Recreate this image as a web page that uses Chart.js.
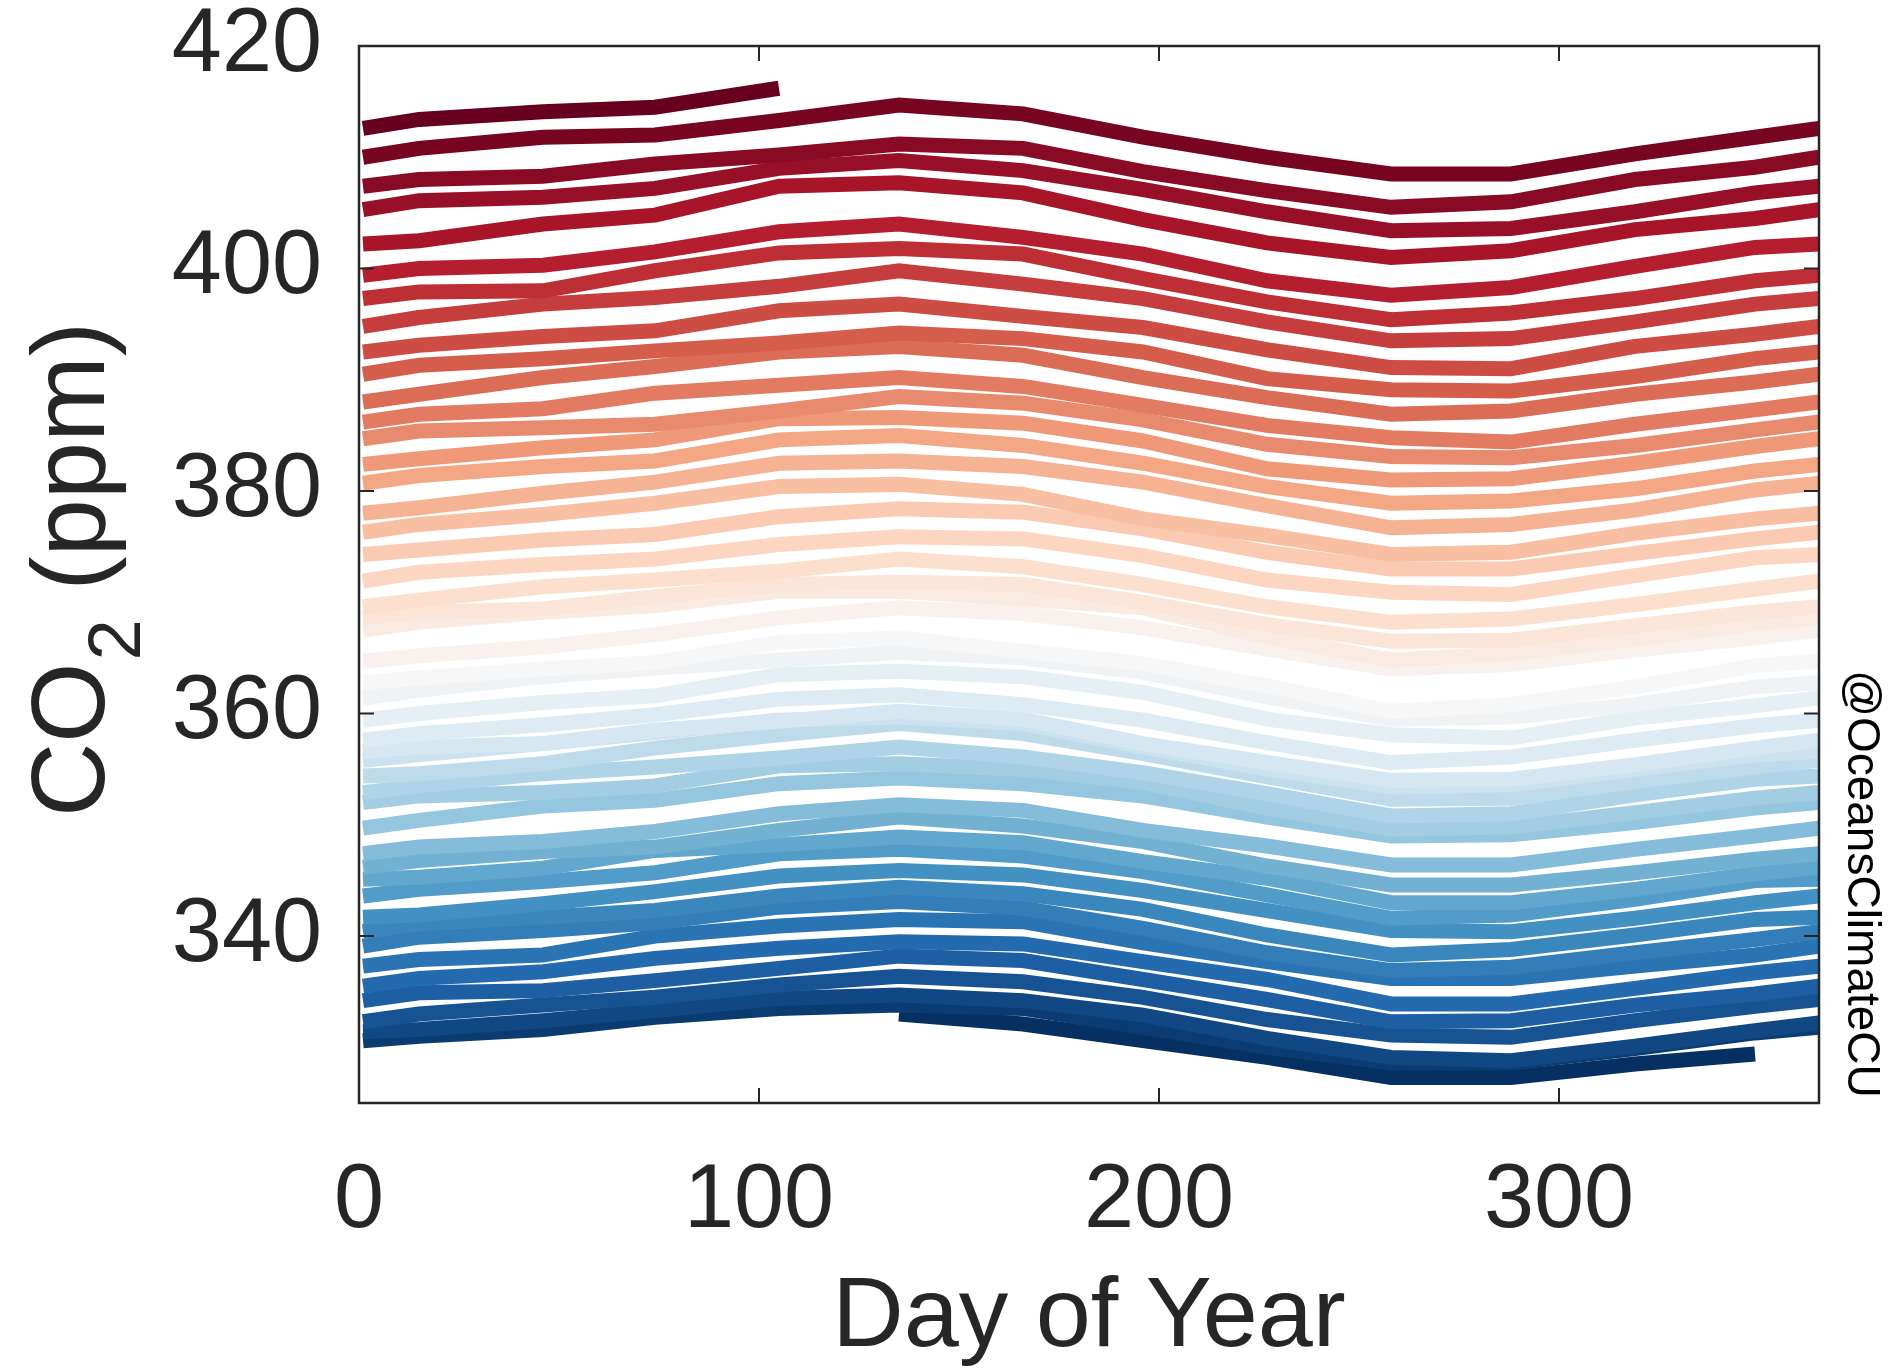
<!DOCTYPE html>
<html>
<head>
<meta charset="utf-8">
<script src="https://cdn.jsdelivr.net/npm/chart.js@4.4.1/dist/chart.umd.min.js"></script>
<style>
  html, body { margin: 0; padding: 0; background: #fff; }
  #wrap { width: 1895px; height: 1369px; position: relative; }
</style>
</head>
<body>
<div id="wrap"><canvas id="chart"></canvas></div>
<script>
'use strict';

// day of year for each reading (start of year, mid-months, end of year)
const days = [1, 15, 46, 74, 105, 135, 166, 196, 227, 258, 288, 319, 349, 365];
const xTicks = [0, 100, 200, 300];
const yTicks = [340, 360, 380, 400, 420];
const years = [];
for (let y = 1974; y <= 2020; y++) years.push(y);

// CO2 (ppm), one list per year
const co2_1974 = [null, null, null, null, null, 333.0, 332.1, 330.6, 329.1, 327.3, 327.3, 328.5, 329.4, null];
const co2_1975 = [330.6, 331.0, 331.6, 332.7, 333.5, 333.8, 333.5, 331.8, 330.0, 328.6, 328.6, 329.9, 331.3, 331.8];
const co2_1976 = [331.4, 331.6, 332.4, 333.3, 334.4, 334.7, 334.2, 332.9, 330.8, 329.1, 328.8, 330.1, 331.5, 332.2];
const co2_1977 = [332.3, 333.0, 333.8, 334.5, 335.6, 336.4, 335.9, 334.5, 332.5, 331.1, 330.9, 332.4, 333.7, 334.3];
const co2_1978 = [334.2, 334.9, 335.1, 336.0, 337.1, 338.2, 337.8, 336.1, 334.3, 332.3, 332.4, 333.8, 334.8, 335.5];
const co2_1979 = [335.5, 336.2, 336.8, 338.0, 338.9, 339.5, 339.3, 337.7, 336.1, 333.9, 333.9, 335.3, 336.7, 337.3];
const co2_1980 = [337.3, 337.9, 338.3, 340.0, 340.9, 341.5, 341.3, 339.4, 337.7, 336.2, 336.2, 337.3, 338.3, 339.1];
const co2_1981 = [339.1, 339.9, 340.5, 341.2, 342.6, 343.1, 342.5, 340.7, 338.5, 336.9, 337.2, 338.5, 339.7, 340.4];
const co2_1982 = [340.4, 341.1, 341.7, 342.3, 343.6, 344.4, 343.8, 342.4, 340.1, 338.3, 338.8, 340.1, 341.5, 341.7];
const co2_1983 = [341.7, 341.9, 342.9, 344.0, 345.4, 345.9, 345.5, 344.1, 342.3, 340.5, 340.4, 341.6, 343.0, 343.6];
const co2_1984 = [343.6, 344.2, 344.9, 345.7, 347.4, 347.8, 347.2, 345.8, 343.7, 341.6, 341.9, 343.3, 345.0, 345.1];
const co2_1985 = [345.1, 345.3, 346.1, 347.7, 348.2, 348.9, 348.4, 346.7, 345.2, 343.0, 343.0, 344.2, 345.6, 346.2];
const co2_1986 = [346.2, 346.8, 347.6, 348.0, 349.5, 350.7, 349.9, 348.5, 346.3, 344.6, 344.6, 345.7, 346.9, 347.4];
const co2_1987 = [347.4, 348.0, 348.5, 349.4, 351.0, 351.8, 351.3, 349.5, 348.1, 346.4, 346.4, 347.8, 349.0, 349.7];
const co2_1988 = [349.7, 350.4, 351.7, 352.2, 353.7, 354.2, 353.7, 352.6, 350.7, 349.0, 349.1, 350.2, 351.5, 352.0];
const co2_1989 = [352.0, 352.6, 352.9, 353.5, 355.3, 355.5, 355.0, 353.8, 351.5, 349.6, 349.8, 351.1, 352.4, 352.9];
const co2_1990 = [352.9, 353.5, 354.6, 355.2, 356.0, 357.0, 356.1, 354.7, 352.8, 350.8, 351.0, 352.7, 354.1, 354.4];
const co2_1991 = [354.4, 354.6, 355.5, 356.9, 358.1, 359.1, 358.2, 356.4, 354.3, 352.3, 352.4, 353.9, 355.2, 355.8];
const co2_1992 = [355.8, 356.3, 357.3, 358.3, 359.4, 359.7, 359.1, 357.0, 355.0, 353.4, 353.6, 355.0, 356.3, 356.6];
const co2_1993 = [356.6, 357.0, 357.3, 358.5, 359.3, 360.2, 359.5, 357.3, 355.6, 354.0, 354.1, 355.4, 356.9, 357.6];
const co2_1994 = [357.6, 358.2, 359.0, 359.9, 361.3, 361.7, 360.8, 359.4, 357.4, 355.6, 356.1, 357.6, 358.9, 359.4];
const co2_1995 = [359.4, 360.0, 361.0, 361.6, 363.5, 363.8, 363.3, 361.9, 359.5, 358.1, 357.8, 359.6, 360.7, 361.4];
const co2_1996 = [361.4, 362.1, 363.3, 364.1, 364.8, 365.5, 365.0, 363.7, 361.5, 359.5, 359.7, 360.8, 362.4, 362.8];
const co2_1997 = [362.8, 363.2, 364.0, 364.6, 366.4, 366.8, 365.6, 364.5, 362.5, 360.2, 360.8, 362.4, 364.3, 364.7];
const co2_1998 = [364.7, 365.2, 366.0, 367.1, 368.6, 369.5, 369.0, 367.7, 365.8, 364.0, 364.4, 365.7, 366.8, 367.5];
const co2_1999 = [367.5, 368.2, 369.1, 369.7, 371.0, 371.0, 370.3, 369.5, 366.9, 364.8, 365.4, 366.7, 368.1, 368.6];
const co2_2000 = [368.6, 369.1, 369.4, 370.5, 371.6, 371.8, 371.6, 370.0, 368.0, 366.5, 366.6, 367.9, 369.1, 369.6];
const co2_2001 = [369.6, 370.2, 371.4, 372.0, 372.8, 373.9, 373.2, 371.6, 369.6, 368.2, 368.5, 369.8, 371.2, 371.9];
const co2_2002 = [371.9, 372.7, 373.4, 373.9, 375.2, 375.9, 375.7, 374.2, 372.0, 370.9, 370.7, 372.4, 374.0, 374.3];
const co2_2003 = [374.3, 374.7, 375.6, 376.1, 377.7, 378.4, 378.1, 376.6, 374.5, 373.0, 373.0, 374.4, 375.7, 376.3];
const co2_2004 = [376.3, 377.0, 377.9, 378.9, 380.4, 380.6, 379.7, 377.5, 376.0, 374.3, 374.5, 376.2, 377.5, 378.0];
const co2_2005 = [378.0, 378.5, 379.8, 380.8, 382.5, 382.7, 382.2, 380.8, 378.7, 376.7, 377.0, 378.3, 380.1, 380.7];
const co2_2006 = [380.7, 381.4, 382.2, 382.7, 384.6, 385.0, 384.1, 382.5, 380.4, 378.9, 379.1, 380.2, 381.8, 382.4];
const co2_2007 = [382.4, 382.9, 383.9, 384.6, 386.5, 386.6, 386.1, 384.5, 382.0, 381.0, 381.1, 382.5, 384.0, 384.7];
const co2_2008 = [384.7, 385.4, 385.7, 386.0, 387.2, 388.5, 387.9, 386.4, 384.2, 383.1, 383.0, 384.1, 385.5, 386.2];
const co2_2009 = [386.2, 386.9, 387.4, 388.8, 389.5, 390.2, 389.4, 387.7, 385.9, 384.8, 384.4, 386.0, 387.3, 388.0];
const co2_2010 = [388.0, 388.7, 390.2, 391.2, 392.5, 393.0, 392.2, 390.2, 388.4, 386.9, 387.2, 388.7, 389.8, 390.5];
const co2_2011 = [390.5, 391.3, 391.9, 392.6, 393.3, 394.2, 393.7, 392.5, 390.1, 389.1, 389.0, 390.3, 391.9, 392.5];
const co2_2012 = [392.5, 393.1, 393.9, 394.4, 396.2, 396.8, 395.7, 394.7, 392.7, 391.1, 391.0, 393.0, 394.1, 394.8];
const co2_2013 = [394.8, 395.6, 396.8, 397.4, 398.4, 399.8, 398.6, 397.3, 395.2, 393.5, 393.7, 395.2, 396.8, 397.3];
const co2_2014 = [397.3, 397.9, 398.0, 399.8, 401.4, 401.8, 401.3, 399.1, 397.0, 395.4, 396.0, 397.3, 398.9, 399.4];
const co2_2015 = [399.4, 400.0, 400.3, 401.5, 403.3, 404.0, 402.8, 401.3, 398.9, 397.6, 398.3, 400.2, 401.9, 402.2];
const co2_2016 = [402.2, 402.5, 404.0, 404.8, 407.4, 407.7, 406.8, 404.4, 402.3, 401.0, 401.6, 403.5, 404.5, 405.3];
const co2_2017 = [405.3, 406.1, 406.4, 407.2, 409.0, 409.7, 408.8, 407.1, 405.1, 403.4, 403.6, 405.1, 406.8, 407.4];
const co2_2018 = [407.4, 408.0, 408.3, 409.4, 410.2, 411.2, 410.8, 408.7, 407.0, 405.5, 406.0, 408.0, 409.1, 410.0];
const co2_2019 = [410.0, 410.8, 411.8, 412.0, 413.3, 414.7, 413.9, 411.8, 410.0, 408.5, 408.5, 410.3, 411.8, 412.6];
const co2_2020 = [412.6, 413.4, 414.1, 414.5, 416.2, null, null, null, null, null, null, null, null, null];

const series = [
  co2_1974, co2_1975, co2_1976, co2_1977, co2_1978, co2_1979, co2_1980, co2_1981,
  co2_1982, co2_1983, co2_1984, co2_1985, co2_1986, co2_1987, co2_1988, co2_1989,
  co2_1990, co2_1991, co2_1992, co2_1993, co2_1994, co2_1995, co2_1996, co2_1997,
  co2_1998, co2_1999, co2_2000, co2_2001, co2_2002, co2_2003, co2_2004, co2_2005,
  co2_2006, co2_2007, co2_2008, co2_2009, co2_2010, co2_2011, co2_2012, co2_2013,
  co2_2014, co2_2015, co2_2016, co2_2017, co2_2018, co2_2019, co2_2020
];

// RdBu colour map, blue (old) to red (new)
const rdbu = ['#053061', '#2166ac', '#4393c3', '#92c5de', '#d1e5f0', '#f7f7f7',
              '#fddbc7', '#f4a582', '#d6604d', '#b2182b', '#67001f'];

function hexToRgb(h) {
  return [parseInt(h.slice(1, 3), 16), parseInt(h.slice(3, 5), 16), parseInt(h.slice(5, 7), 16)];
}

function colorAt(t) {
  let pos = t * (rdbu.length - 1);
  let i = Math.min(Math.floor(pos), rdbu.length - 2);
  let f = pos - i;
  let a = hexToRgb(rdbu[i]), b = hexToRgb(rdbu[i + 1]);
  let c = a.map((v, k) => Math.round(v + (b[k] - v) * f));
  return 'rgb(' + c.join(',') + ')';
}

const FONT = "'Liberation Sans', Arial, Helvetica, sans-serif";
const INK = '#262626';

let datasets = series.map((vals, i) => ({
  label: String(years[i]),
  data: days.map((d, k) => ({ x: d, y: vals[k] })),
  borderColor: colorAt(i / (series.length - 1)),
  borderWidth: 15,
  pointRadius: 0,
  tension: 0,
  spanGaps: false,
  borderJoinStyle: 'miter',
  borderCapStyle: 'butt',
  clip: 0,
  order: series.length - i
}));

const framePlugin = {
  id: 'frame',
  beforeDraw(chart) {
    let ctx = chart.ctx;
    ctx.save();
    ctx.fillStyle = '#fff';
    ctx.fillRect(0, 0, chart.width, chart.height);
    ctx.restore();
  },
  afterDatasetsDraw(chart) {
    let ctx = chart.ctx;
    let a = chart.chartArea;
    let xs = chart.scales.x, ys = chart.scales.y;
    let tl = 15;
    ctx.save();
    ctx.strokeStyle = INK;
    ctx.lineWidth = 2.5;
    ctx.strokeRect(a.left, a.top, a.right - a.left, a.bottom - a.top);
    ctx.lineWidth = 2;
    ctx.beginPath();
    xTicks.forEach(v => {
      let px = xs.getPixelForValue(v);
      ctx.moveTo(px, a.bottom); ctx.lineTo(px, a.bottom - tl);
      ctx.moveTo(px, a.top); ctx.lineTo(px, a.top + tl);
    });
    yTicks.forEach(v => {
      let py = ys.getPixelForValue(v);
      ctx.moveTo(a.left, py); ctx.lineTo(a.left + tl, py);
      ctx.moveTo(a.right, py); ctx.lineTo(a.right - tl, py);
    });
    ctx.stroke();
    ctx.restore();
  },
  afterDraw(chart) {
    let ctx = chart.ctx;
    let a = chart.chartArea;
    ctx.save();
    ctx.fillStyle = INK;

    // x title
    ctx.font = '99px ' + FONT;
    ctx.textAlign = 'center';
    ctx.textBaseline = 'alphabetic';
    ctx.fillText('Day of Year', (a.left + a.right) / 2, 1346);

    // y title with subscript
    let big = '103px ' + FONT, small = '74px ' + FONT;
    ctx.font = big;
    let w1 = ctx.measureText('CO').width;
    let w3 = ctx.measureText(' (ppm)').width;
    ctx.font = small;
    let w2 = ctx.measureText('2').width;
    let total = w1 + w2 + w3;
    ctx.translate(104, (a.top + a.bottom) / 2 - 4);
    ctx.rotate(-Math.PI / 2);
    ctx.textAlign = 'left';
    let x0 = -total / 2;
    ctx.font = big;
    ctx.fillText('CO', x0, 0);
    ctx.font = small;
    ctx.fillText('2', x0 + w1 + 2, 36);
    ctx.font = big;
    ctx.fillText(' (ppm)', x0 + w1 + w2 + 2, 0);
    ctx.restore();

    // handle
    ctx.save();
    ctx.fillStyle = '#000';
    ctx.font = '46px ' + FONT;
    ctx.translate(1848, 884);
    ctx.rotate(Math.PI / 2);
    ctx.textAlign = 'center';
    ctx.textBaseline = 'alphabetic';
    ctx.fillText('@OceansClimateCU', 0, 0);
    ctx.restore();
  }
};

const config = {
  type: 'line',
  data: { datasets: datasets },
  options: {
    responsive: true,
    maintainAspectRatio: false,
    animation: false,
    events: [],
    layout: { padding: { top: 46, right: 76, left: 0, bottom: 0 } },
    plugins: {
      legend: { display: false },
      tooltip: { enabled: false }
    },
    scales: {
      x: {
        type: 'linear',
        min: 0,
        max: 365,
        afterBuildTicks: s => { s.ticks = xTicks.map(v => ({ value: v })); },
        afterFit: s => { s.height = 266; s.paddingLeft = 0; s.paddingRight = 0; },
        grid: { display: false, drawTicks: false },
        border: { display: false },
        ticks: {
          font: { size: 90, family: FONT },
          color: INK,
          padding: 45,
          maxRotation: 0,
          autoSkip: false
        }
      },
      y: {
        type: 'linear',
        min: 325,
        max: 420,
        afterBuildTicks: s => { s.ticks = yTicks.map(v => ({ value: v })); },
        afterFit: s => { s.width = 359; s.paddingTop = 0; s.paddingBottom = 0; },
        grid: { display: false, drawTicks: false },
        border: { display: false },
        ticks: {
          font: { size: 90, family: FONT },
          color: INK,
          padding: 37,
          autoSkip: false
        }
      }
    }
  },
  plugins: [framePlugin]
};

new Chart(document.getElementById('chart'), config);
</script>
</body>
</html>
